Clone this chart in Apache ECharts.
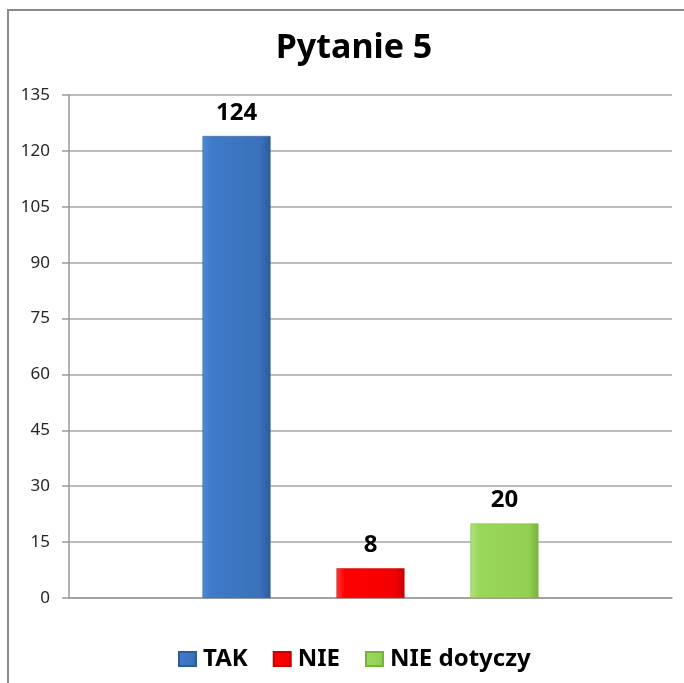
<!DOCTYPE html>
<html>
<head>
<meta charset="utf-8">
<script src="https://cdn.jsdelivr.net/npm/echarts@6/dist/echarts.min.js"></script>
<style>
  html, body { margin: 0; padding: 0; background: #fff; }
  #chart { width: 684px; height: 683px; }
</style>
</head>
<body>
<div id="chart"></div>
<script>
// dane z wykresu
const seriesNames = ['TAK', 'NIE', 'NIE dotyczy'];
const seriesValues = [124, 8, 20];
const yTicks = { min: 0, max: 135, step: 15 };

// kolory słupków (gradient imitujący fazowanie z Excela)
const barColors = [
    ['#4b8bd8', '#3f7bc9', '#3a71ba', '#2d5b98'],
    ['#ff3a3a', '#ff0000', '#f40000', '#c80000'],
    ['#b0e27a', '#9ad85a', '#93d052', '#78b23c']
];

const fontFamily = '"Noto Sans", "Open Sans", sans-serif';

const makeGradient = (c) => new echarts.graphic.LinearGradient(0, 0, 1, 0, [
    { offset: 0, color: c[0] },
    { offset: 0.12, color: c[1] },
    { offset: 0.85, color: c[2] },
    { offset: 1, color: c[3] }
]);

const chart = echarts.init(document.getElementById('chart'), null, { renderer: 'canvas' });

const series = seriesNames.map((name, i) => ({
    name,
    type: 'bar',
    data: [seriesValues[i]],
    barWidth: 68,
    barGap: '97%',
    itemStyle: {
        color: makeGradient(barColors[i]),
        borderColor: barColors[i][3],
        borderWidth: 0.5
    },
    label: {
        show: true,
        position: 'top',
        distance: 11,
        color: '#000',
        fontFamily,
        fontWeight: 'bold',
        fontSize: 24
    }
}));

chart.setOption({
    animation: false,
    backgroundColor: '#fff',
    title: {
        text: 'Pytanie 5',
        left: 349,
        textAlign: 'center',
        top: 26,
        textStyle: {
            fontFamily,
            fontWeight: 'bold',
            fontSize: 34,
            color: '#000'
        }
    },
    //ramka wykresu
    graphic: [{
        type: 'rect',
        shape: { x: 8, y: 10, width: 720, height: 720 },
        style: { fill: 'none', stroke: '#8a8a8a', lineWidth: 2 },
        silent: true,
        z: -1
    }],
    legend: {
        data: seriesNames,
        left: 173,
        top: 642,
        itemWidth: 17,
        itemHeight: 14,
        itemGap: 25,
        icon: 'rect',
        textStyle: {
            fontFamily,
            fontWeight: 'bold',
            fontSize: 24,
            color: '#000',
            padding: [0, 0, 0, 2]
        }
    },
    grid: {
        left: 69,
        right: 12,
        top: 95,
        bottom: 85
    },
    xAxis: {
        type: 'category',
        data: [''],
        axisTick: { show: false },
        axisLabel: { show: false },
        axisLine: { lineStyle: { color: '#9a9a9a', width: 1.5 } }
    },
    yAxis: {
        type: 'value',
        min: yTicks.min,
        max: yTicks.max,
        interval: yTicks.step,
        axisLine: { show: true, lineStyle: { color: '#9a9a9a', width: 1.5 } },
        axisTick: { show: true, length: 7, lineStyle: { color: '#9a9a9a', width: 1.5 } },
        splitLine: { lineStyle: { color: '#a6a6a6', width: 1.5 } },
        axisLabel: {
            margin: 19,
            fontFamily,
            fontSize: 17,
            color: '#262626'
        }
    },
    series
});
</script>
</body>
</html>
